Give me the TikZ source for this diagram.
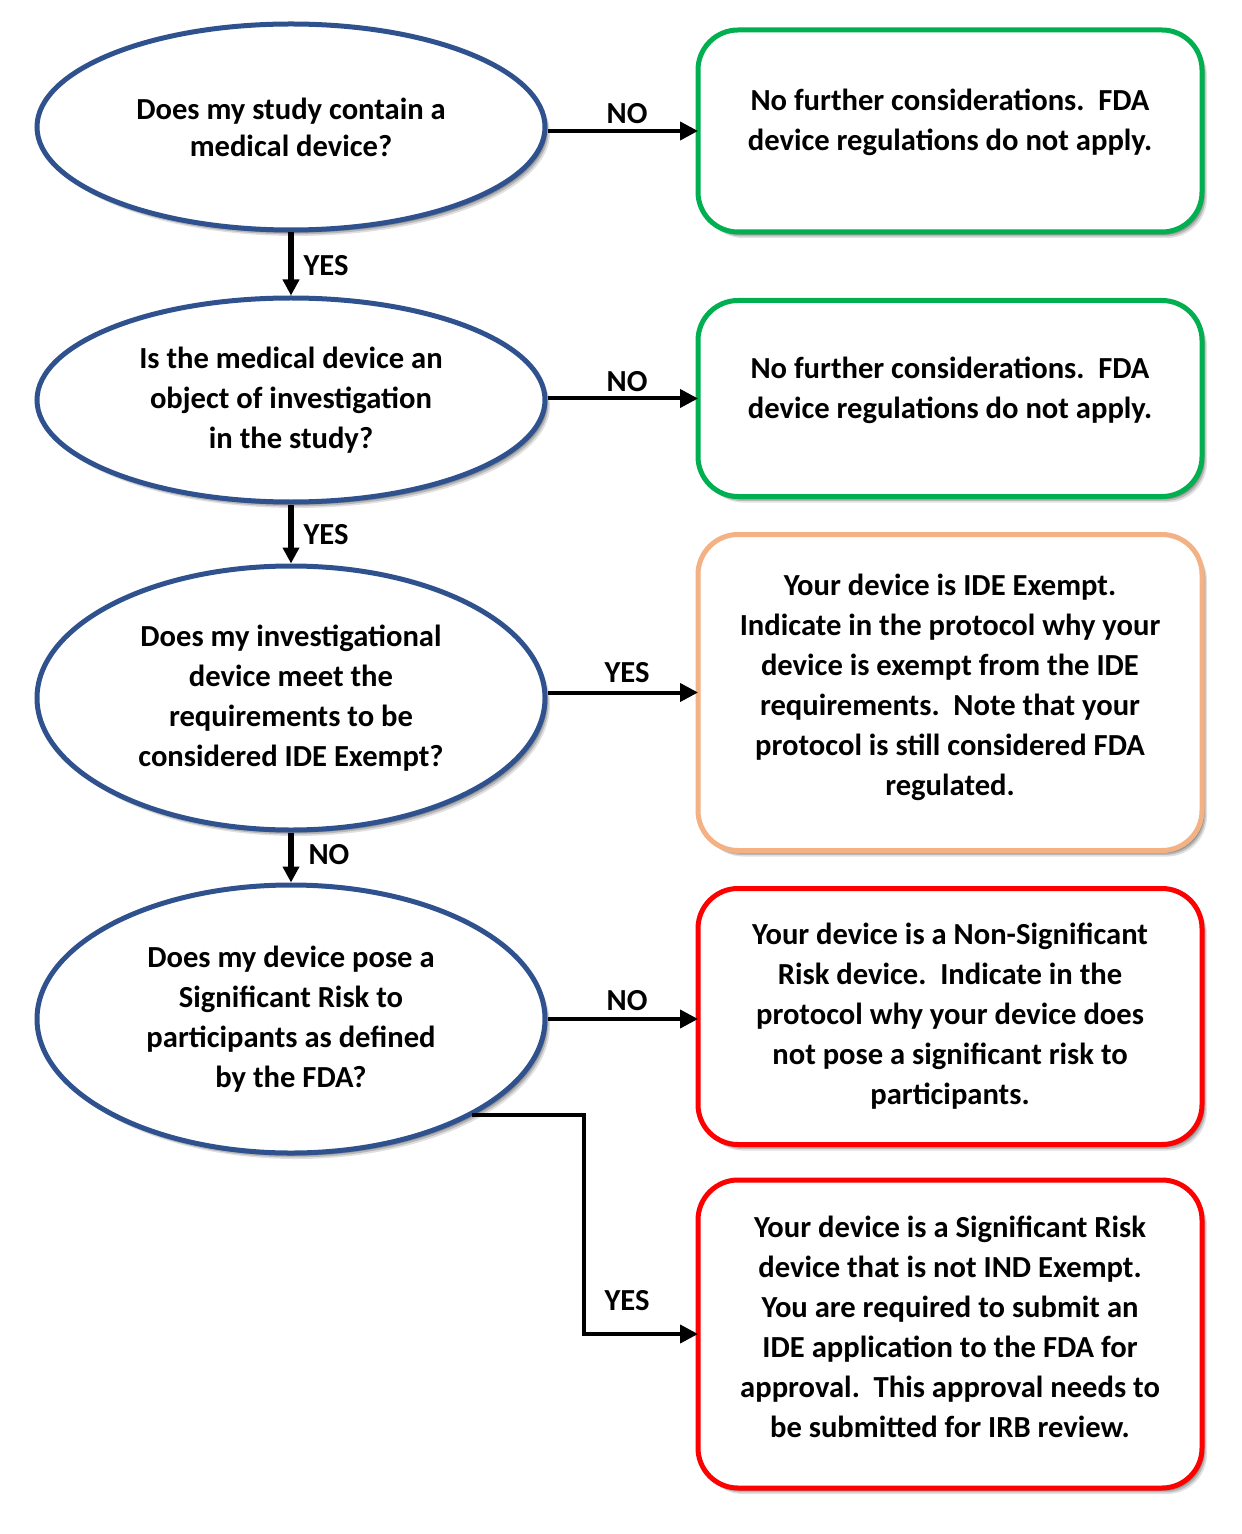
\documentclass[tikz,border=0pt]{standalone}
\usepackage{fontspec}
\setmainfont{Carlito}
\usetikzlibrary{shapes.geometric,arrows.meta,shadows,calc}
\definecolor{eblue}{RGB}{47,82,143}
\definecolor{bgreen}{RGB}{0,176,80}
\definecolor{borange}{RGB}{244,177,131}
\definecolor{bred}{RGB}{255,0,0}
\tikzset{
  softshadow/.style={
    preaction={general shadow={shadow xshift=2.5pt,shadow yshift=-3pt,opacity=0.12,fill=black}},
    preaction={general shadow={shadow xshift=1.8pt,shadow yshift=-2.2pt,opacity=0.18,fill=black}},
    preaction={general shadow={shadow xshift=1.2pt,shadow yshift=-1.4pt,opacity=0.2,fill=black}}},
  txt/.style={font=\fontsize{15.3}{20}\selectfont\bfseries},
  question/.style={ellipse,draw=eblue,line width=2.5pt,fill=white,softshadow,
    minimum width=254pt,inner sep=0pt,align=center,txt},
  answer/.style={rectangle,rounded corners=20pt,line width=2.5pt,fill=white,softshadow,
    minimum width=252pt,inner sep=0pt,outer sep=0pt,align=center,txt},
  sidearrow/.style={line width=2pt,-{Triangle[length=9pt,width=9pt]}},
  downarrow/.style={line width=3pt,-{Triangle[length=8pt,width=8pt]}},
  lbl/.style={txt,inner sep=0pt}
}
\begin{document}
\begin{tikzpicture}[x=0.5pt,y=-0.5pt]
\useasboundingbox (0,0) rectangle (1241,1534);
% questions
\node[question,minimum height=103pt] (E1) at (291,127) {Does my study contain a\\[-1.5pt]medical device?};
\node[question,minimum height=102pt] (E2) at (291,400) {Is the medical device an\\object of investigation\\in the study?};
\node[question,minimum height=132pt] (E3) at (291,698) {Does my investigational\\device meet the\\requirements to be\\considered IDE Exempt?};
\node[question,minimum height=134pt] (E4) at (291,1019) {Does my device pose a\\Significant Risk to\\participants as defined\\by the FDA?};
% answers
\node[answer,draw=bgreen,minimum height=101pt] (B1) at (950,131) {No further considerations.\ \ FDA\\device regulations do not apply.\\[-9pt]};
\node[answer,draw=bgreen,minimum height=98pt] (B2) at (950,398.5) {No further considerations.\ \ FDA\\device regulations do not apply.\\[-9pt]};
\node[answer,draw=borange,minimum height=158pt] (B3) at (950,692.5) {Your device is IDE Exempt.\\Indicate in the protocol why your\\device is exempt from the IDE\\requirements.\ \ Note that your\\protocol is still considered FDA\\regulated.\\[-12pt]};
\node[answer,draw=bred,minimum height=128pt] (B4) at (950,1016.5) {Your device is a Non-Significant\\Risk device.\ \ Indicate in the\\protocol why your device does\\not pose a significant risk to\\participants.};
\node[answer,draw=bred,minimum height=154pt] (B5) at (950,1334) {Your device is a Significant Risk\\device that is not IND Exempt.\\You are required to submit an\\IDE application to the FDA for\\approval.\ \ This approval needs to\\be submitted for IRB review.\\[-13pt]};
% connectors
\draw[sidearrow] (B1.west -| E1.east) -- (B1.west);
\draw[sidearrow] (B2.west -| E2.east) -- (B2.west);
\draw[sidearrow] (B3.west -| E3.east) -- (B3.west);
\draw[sidearrow] (E4.east) -- (E4.east -| B4.west);
\coordinate (k) at (584,0);
\draw[sidearrow] (E4.-28.5) -- (E4.-28.5 -| k) |- (B5.west);
\draw[downarrow] (E1.south) -- (E2.north);
\draw[downarrow] (E2.south) -- (E3.north);
\draw[downarrow] (E3.south) -- (E4.north);
% labels
\node[lbl] (l1) at (627,114) {NO};
\node[lbl] (l2) at (627,382) {NO};
\node[lbl] (l3) at (627,673) {YES};
\node[lbl] (l4) at (627,1001) {NO};
\node[lbl] (l5) at (627,1301) {YES};
\node[lbl] (l6) at (326,266) {YES};
\node[lbl] (l7) at (326,535) {YES};
\node[lbl] (l8) at (329,855) {NO};
\end{tikzpicture}
\end{document}
